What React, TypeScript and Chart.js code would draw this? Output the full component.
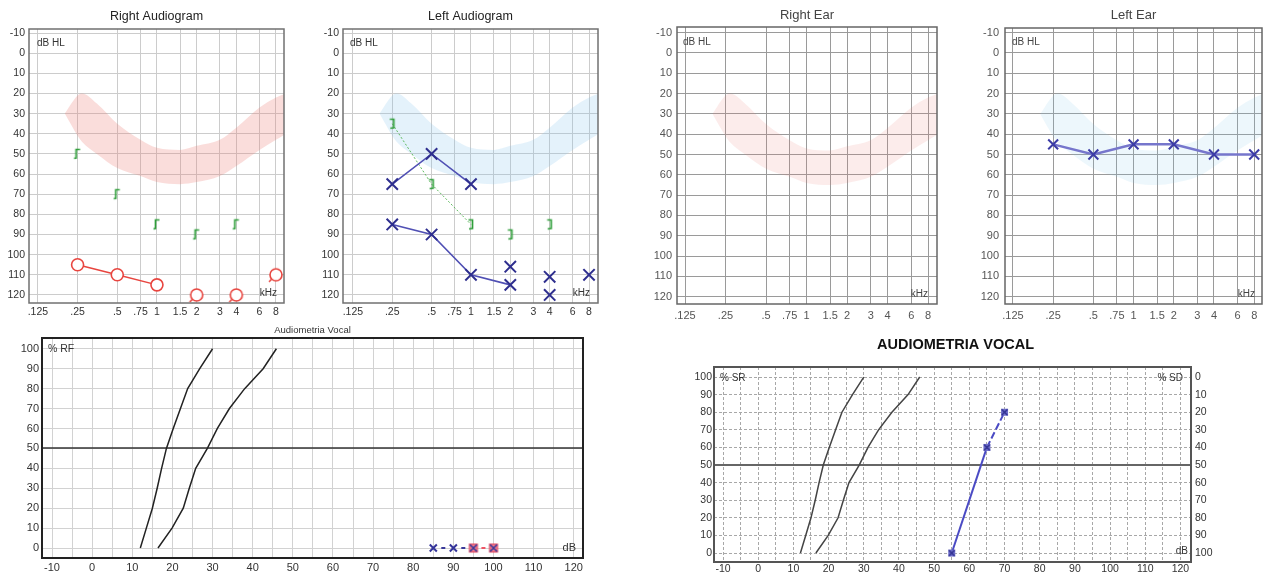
import React, { useEffect, useRef } from 'react';
import { Chart, registerables } from 'chart.js';

Chart.register(...registerables);

const FONT = "'Liberation Sans', Arial, Helvetica, sans-serif";

// ---------- tick labels ----------
const FREQ_TICKS = [0.125, 0.25, 0.5, 0.75, 1, 1.5, 2, 3, 4, 6, 8];
const FREQ_LABELS = ['.125', '.25', '.5', '.75', '1', '1.5', '2', '3', '4', '6', '8'];
const DB_HL_TICKS = [-10, 0, 10, 20, 30, 40, 50, 60, 70, 80, 90, 100, 110, 120];
const VOCAL_DB_TICKS = [-10, -5, 0, 5, 10, 15, 20, 25, 30, 35, 40, 45, 50, 55, 60, 65, 70, 75, 80, 85, 90, 95, 100, 105, 110, 115, 120];
const VOCAL_PCT_TICKS = [0, 10, 20, 30, 40, 50, 60, 70, 80, 90, 100];

// ---------- speech banana (normal-hearing speech area) ----------
const BANANA_FREQ = [0.2, 0.25, 0.27, 0.35, 0.5, 0.75, 1, 1.5, 2, 3, 4, 6, 8, 9.5];
const BANANA_UPPER_DB = [30, 21, 20, 25, 35, 43, 47, 48, 46, 43, 37, 27, 22, 20];
const BANANA_LOWER_DB = [30, 41, 44, 50, 57, 61, 64, 65, 64, 61, 56, 48, 43, 40];

// ---------- Right Audiogram ----------
const RIGHT_AIR_FREQ = [0.25, 0.5, 1];
const RIGHT_AIR_DB = [105, 110, 115];
const RIGHT_AIR_NR_FREQ = [2, 4, 8];
const RIGHT_AIR_NR_DB = [120, 120, 110];
const RIGHT_BONE_FREQ = [0.25, 0.5, 1, 2, 4];
const RIGHT_BONE_DB = [50, 70, 85, 90, 85];

// ---------- Left Audiogram ----------
const LEFT_AIR_A_FREQ = [0.25, 0.5, 1];
const LEFT_AIR_A_DB = [65, 50, 65];
const LEFT_AIR_B_FREQ = [0.25, 0.5, 1, 2];
const LEFT_AIR_B_DB = [85, 90, 110, 115];
const LEFT_AIR_SINGLE_FREQ = [2, 4, 4, 8];
const LEFT_AIR_SINGLE_DB = [106, 111, 120, 110];
const LEFT_BONE_FREQ = [0.25, 0.5, 1, 2, 4];
const LEFT_BONE_DB = [35, 65, 85, 90, 85];

// ---------- Left Ear ----------
const LEFT_EAR_FREQ = [0.25, 0.5, 1, 2, 4, 8];
const LEFT_EAR_DB = [45, 50, 45, 45, 50, 50];

// ---------- Speech audiometry ----------
const REF1_DB = [12, 13.5, 15, 16.2, 17.3, 18.5, 20.2, 22, 23.8, 26.8, 30];
const REF1_PCT = [0, 10, 20, 30, 40, 50, 60, 70, 80, 90, 100];
const REF2_DB = [16.4, 19.9, 22.7, 24.2, 25.8, 28.7, 31.2, 34.2, 38, 42.6, 45.9];
const REF2_PCT = [0, 10, 20, 30, 40, 50, 60, 70, 80, 90, 100];
const VOCAL_RF_DB = [85, 90, 95, 100];
const VOCAL_RF_PCT = [0, 0, 0, 0];
const VOCAL_SD_DB = [55, 65, 70];
const VOCAL_SD_PCT = [100, 40, 20];

// ---------- colours ----------
const RED = '#e8453f';
const GREEN = '#2f9e3a';
const NAVY = '#2e2e8e';
const BLUE_LINE = '#5050b4';

const pts = (xs: number[], ys: number[]) => xs.map((x, i) => ({ x, y: ys[i] }));

type Txt = {
  text: string;
  anchor: 'tl' | 'tr' | 'bl' | 'br' | 'tc';
  dx: number;
  dy: number;
  align: CanvasTextAlign;
  font: string;
  color: string;
};
type Deco = {
  frame?: { color: string; width: number };
  hLines?: { value: number; color: string; width: number }[];
  texts: Txt[];
};

function makeDeco(d: Deco) {
  return {
    id: 'deco',
    beforeDatasetsDraw(chart: any) {
      const { ctx, chartArea: a } = chart;
      const ys = chart.scales.y;
      (d.hLines || []).forEach((h) => {
        const y = Math.round(ys.getPixelForValue(h.value));
        ctx.save();
        ctx.strokeStyle = h.color;
        ctx.lineWidth = h.width;
        ctx.beginPath();
        ctx.moveTo(a.left, y);
        ctx.lineTo(a.right, y);
        ctx.stroke();
        ctx.restore();
      });
    },
    afterDraw(chart: any) {
      const { ctx, chartArea: a } = chart;
      ctx.save();
      if (d.frame) {
        ctx.strokeStyle = d.frame.color;
        ctx.lineWidth = d.frame.width;
        ctx.strokeRect(a.left, a.top, a.right - a.left, a.bottom - a.top);
      }
      d.texts.forEach((t) => {
        const h = t.anchor[1];
        const bx = h === 'l' ? a.left : h === 'r' ? a.right : (a.left + a.right) / 2;
        const by = t.anchor[0] === 't' ? a.top : a.bottom;
        ctx.font = t.font;
        ctx.fillStyle = t.color;
        ctx.textAlign = t.align;
        ctx.textBaseline = 'middle';
        ctx.fillText(t.text, bx + t.dx, by + t.dy);
      });
      ctx.restore();
    },
  };
}

function mkCanvas(w: number, h: number, draw: (c: CanvasRenderingContext2D) => void) {
  const cv = document.createElement('canvas');
  cv.width = w;
  cv.height = h;
  const c = cv.getContext('2d') as CanvasRenderingContext2D;
  draw(c);
  return cv;
}

function bracketMarker(color: string, openRight: boolean) {
  return mkCanvas(12, 14, (c) => {
    c.strokeStyle = color;
    c.lineWidth = 1.7;
    c.beginPath();
    if (openRight) {
      c.moveTo(8.5, 2.5);
      c.lineTo(4.5, 2.5);
      c.lineTo(4.5, 11);
      c.lineTo(2.5, 11.5);
    } else {
      c.moveTo(3.5, 2.5);
      c.lineTo(7.5, 2.5);
      c.lineTo(7.5, 11);
      c.lineTo(4, 11.5);
    }
    c.stroke();
  });
}

function circleNoResponse() {
  return mkCanvas(20, 20, (c) => {
    c.strokeStyle = RED;
    c.lineWidth = 1.6;
    c.fillStyle = '#ffffff';
    c.beginPath();
    c.arc(10, 10, 6, 0, Math.PI * 2);
    c.fill();
    c.stroke();
    c.beginPath();
    c.moveTo(5.5, 14.5);
    c.lineTo(3, 17);
    c.stroke();
  });
}

function pinkSquareX() {
  return mkCanvas(12, 12, (c) => {
    c.fillStyle = '#f27a8c';
    c.fillRect(2, 2, 8, 8);
    c.strokeStyle = '#e0405a';
    c.lineWidth = 1;
    c.strokeRect(2, 2, 8, 8);
    c.strokeStyle = '#3a3a9a';
    c.lineWidth = 1.6;
    c.beginPath();
    c.moveTo(2.5, 2.5);
    c.lineTo(9.5, 9.5);
    c.moveTo(9.5, 2.5);
    c.lineTo(2.5, 9.5);
    c.stroke();
  });
}

function blueSquareX() {
  return mkCanvas(9, 9, (c) => {
    c.fillStyle = '#7070cc';
    c.fillRect(1, 1, 7, 7);
    c.strokeStyle = '#2c2c8c';
    c.lineWidth = 1.3;
    c.beginPath();
    c.moveTo(1.5, 1.5);
    c.lineTo(7.5, 7.5);
    c.moveTo(7.5, 1.5);
    c.lineTo(1.5, 7.5);
    c.stroke();
  });
}

function baseOptions(padding: any, scales: any) {
  return {
    responsive: false,
    maintainAspectRatio: false,
    animation: false,
    devicePixelRatio: 1,
    events: [],
    layout: { padding },
    plugins: { legend: { display: false }, tooltip: { enabled: false }, title: { display: false } },
    scales,
  };
}

function freqAxis(min: number, max: number, o: any) {
  return {
    type: 'logarithmic',
    min,
    max,
    afterBuildTicks: (s: any) => {
      s.ticks = FREQ_TICKS.map((v) => ({ value: v }));
    },
    afterFit: (s: any) => {
      s.height = o.h;
    },
    ticks: {
      autoSkip: false,
      maxRotation: 0,
      minRotation: 0,
      padding: o.pad,
      color: o.color,
      font: { family: FONT, size: o.size },
      callback: (_v: any, i: number) => FREQ_LABELS[i],
    },
    grid: { color: o.grid, lineWidth: 1, drawTicks: false },
    border: { display: false },
  };
}

function dbAxis(min: number, max: number, o: any) {
  return {
    type: 'linear',
    reverse: true,
    min,
    max,
    afterBuildTicks: (s: any) => {
      s.ticks = DB_HL_TICKS.map((v) => ({ value: v }));
    },
    afterFit: (s: any) => {
      s.width = o.w;
    },
    ticks: {
      padding: o.pad,
      color: o.color,
      font: { family: FONT, size: o.size },
      callback: (v: any) => String(v),
    },
    grid: { color: o.grid, lineWidth: 1, drawTicks: false },
    border: { display: false },
  };
}

function bananaSets(fill: string) {
  return [
    {
      data: pts(BANANA_FREQ, BANANA_UPPER_DB),
      borderWidth: 0,
      borderColor: 'rgba(0,0,0,0)',
      pointRadius: 0,
      fill: false,
      cubicInterpolationMode: 'monotone',
      order: 10,
    },
    {
      data: pts(BANANA_FREQ, BANANA_LOWER_DB),
      borderWidth: 0,
      borderColor: 'rgba(0,0,0,0)',
      pointRadius: 0,
      fill: '-1',
      backgroundColor: fill,
      cubicInterpolationMode: 'monotone',
      order: 10,
    },
  ];
}

const t = (text: string, anchor: Txt['anchor'], dx: number, dy: number, align: CanvasTextAlign, font: string, color: string): Txt => ({
  text, anchor, dx, dy, align, font, color,
});

// ---------- panel builders ----------
function buildRightAudiogram() {
  const nr = circleNoResponse();
  const br = bracketMarker(GREEN, true);
  return {
    type: 'line',
    data: {
      datasets: [
        {
          data: pts(RIGHT_AIR_FREQ, RIGHT_AIR_DB),
          borderColor: RED,
          borderWidth: 1.5,
          pointStyle: 'circle',
          pointRadius: 6,
          pointBorderWidth: 1.6,
          pointBorderColor: RED,
          pointBackgroundColor: '#ffffff',
          fill: false,
        },
        { data: pts(RIGHT_AIR_NR_FREQ, RIGHT_AIR_NR_DB), showLine: false, pointStyle: nr, pointRadius: 6 },
        { data: pts(RIGHT_BONE_FREQ, RIGHT_BONE_DB), showLine: false, pointStyle: br, pointRadius: 6 },
        ...bananaSets('rgba(235,120,110,0.25)'),
      ],
    },
    options: baseOptions(
      { top: 29, right: 16, bottom: 0, left: 0 },
      {
        x: freqAxis(0.107, 9.2, { h: 17, pad: 3, color: '#333', size: 10.5, grid: '#cccccc' }),
        y: dbAxis(-12, 124, { w: 29, pad: 4, color: '#333', size: 10.5, grid: '#cccccc' }),
      }
    ),
    plugins: [
      makeDeco({
        frame: { color: '#707070', width: 1.5 },
        texts: [
          t('Right Audiogram', 'tc', 0, -12, 'center', `12.5px ${FONT}`, '#222'),
          t('dB HL', 'tl', 8, 14, 'left', `10px ${FONT}`, '#333'),
          t('kHz', 'br', -7, -10, 'right', `10px ${FONT}`, '#333'),
        ],
      }),
    ],
  };
}

function buildLeftAudiogram() {
  const bl = bracketMarker(GREEN, false);
  const xSet = (xs: number[], ys: number[], line: boolean) => ({
    data: pts(xs, ys),
    showLine: line,
    borderColor: BLUE_LINE,
    borderWidth: 1.6,
    pointStyle: 'crossRot',
    pointRadius: 8,
    pointBorderWidth: 2,
    pointBorderColor: NAVY,
    fill: false,
  });
  return {
    type: 'line',
    data: {
      datasets: [
        xSet(LEFT_AIR_A_FREQ, LEFT_AIR_A_DB, true),
        xSet(LEFT_AIR_B_FREQ, LEFT_AIR_B_DB, true),
        xSet(LEFT_AIR_SINGLE_FREQ, LEFT_AIR_SINGLE_DB, false),
        {
          data: pts(LEFT_BONE_FREQ, LEFT_BONE_DB),
          borderColor: '#5cb85c',
          borderWidth: 1,
          borderDash: [2, 2],
          segment: { borderColor: (ctx: any) => (ctx.p0DataIndex < 2 ? '#5cb85c' : 'rgba(0,0,0,0)') },
          pointStyle: bl,
          pointRadius: 6,
          fill: false,
        },
        ...bananaSets('rgba(130,195,235,0.22)'),
      ],
    },
    options: baseOptions(
      { top: 29, right: 16, bottom: 0, left: 0 },
      {
        x: freqAxis(0.105, 9.37, { h: 17, pad: 3, color: '#333', size: 10.5, grid: '#cccccc' }),
        y: dbAxis(-12, 124, { w: 29, pad: 4, color: '#333', size: 10.5, grid: '#cccccc' }),
      }
    ),
    plugins: [
      makeDeco({
        frame: { color: '#707070', width: 1.5 },
        texts: [
          t('Left Audiogram', 'tc', 0, -12, 'center', `12.5px ${FONT}`, '#222'),
          t('dB HL', 'tl', 7, 14, 'left', `10px ${FONT}`, '#333'),
          t('kHz', 'br', -8, -10, 'right', `10px ${FONT}`, '#333'),
        ],
      }),
    ],
  };
}

function buildRightEar() {
  return {
    type: 'line',
    data: { datasets: [...bananaSets('rgba(235,120,110,0.14)')] },
    options: baseOptions(
      { top: 27, right: 13, bottom: 0, left: 0 },
      {
        x: freqAxis(0.109, 9.33, { h: 16, pad: 5, color: '#555', size: 11, grid: '#9a9a9a' }),
        y: dbAxis(-12.75, 123.6, { w: 37, pad: 5, color: '#555', size: 11, grid: '#9a9a9a' }),
      }
    ),
    plugins: [
      makeDeco({
        frame: { color: '#666666', width: 1.5 },
        texts: [
          t('Right Ear', 'tc', 0, -12, 'center', `13px ${FONT}`, '#444'),
          t('dB HL', 'tl', 6, 15, 'left', `10px ${FONT}`, '#444'),
          t('kHz', 'br', -9, -10, 'right', `10px ${FONT}`, '#444'),
        ],
      }),
    ],
  };
}

function buildLeftEar() {
  return {
    type: 'line',
    data: {
      datasets: [
        {
          data: pts(LEFT_EAR_FREQ, LEFT_EAR_DB),
          borderColor: '#7676cc',
          borderWidth: 2.5,
          pointStyle: 'crossRot',
          pointRadius: 7,
          pointBorderWidth: 2,
          pointBorderColor: '#3c3ca6',
          fill: false,
        },
        ...bananaSets('rgba(130,195,235,0.14)'),
      ],
    },
    options: baseOptions(
      { top: 28, right: 6, bottom: 0, left: 0 },
      {
        x: freqAxis(0.109, 9.15, { h: 16, pad: 5, color: '#555', size: 11, grid: '#9a9a9a' }),
        y: dbAxis(-12.3, 123.6, { w: 45, pad: 6, color: '#555', size: 11, grid: '#9a9a9a' }),
      }
    ),
    plugins: [
      makeDeco({
        frame: { color: '#666666', width: 1.5 },
        texts: [
          t('Left Ear', 'tc', 0, -13, 'center', `13px ${FONT}`, '#444'),
          t('dB HL', 'tl', 7, 14, 'left', `10px ${FONT}`, '#444'),
          t('kHz', 'br', -7, -10, 'right', `10px ${FONT}`, '#444'),
        ],
      }),
    ],
  };
}

function vocalX(min: number, max: number, o: any) {
  return {
    type: 'linear',
    min,
    max,
    afterBuildTicks: (s: any) => {
      s.ticks = VOCAL_DB_TICKS.map((v) => ({ value: v }));
    },
    afterFit: (s: any) => {
      s.height = o.h;
    },
    ticks: {
      autoSkip: false,
      maxRotation: 0,
      minRotation: 0,
      padding: o.pad,
      color: '#333',
      font: { family: FONT, size: o.size },
      callback: (v: any) => (v % 10 === 0 ? String(v) : ''),
    },
    grid: { color: o.grid, lineWidth: 1, drawTicks: false },
    border: { display: false, dash: o.dash },
  };
}

function vocalY(min: number, max: number, o: any) {
  return {
    type: 'linear',
    position: o.position || 'left',
    reverse: !!o.reverse,
    min,
    max,
    afterBuildTicks: (s: any) => {
      s.ticks = VOCAL_PCT_TICKS.map((v) => ({ value: v }));
    },
    afterFit: (s: any) => {
      s.width = o.w;
    },
    ticks: { padding: o.pad, color: '#333', font: { family: FONT, size: o.size }, callback: (v: any) => String(v) },
    grid: o.grid ? { color: o.grid, lineWidth: 1, drawTicks: false } : { display: false, drawTicks: false },
    border: { display: false, dash: o.dash },
  };
}

function refCurves(color: string) {
  return [
    { data: pts(REF1_DB, REF1_PCT), borderColor: color, borderWidth: 1.5, pointRadius: 0, fill: false },
    { data: pts(REF2_DB, REF2_PCT), borderColor: color, borderWidth: 1.5, pointRadius: 0, fill: false },
  ];
}

function buildVocalLeft() {
  const sq = pinkSquareX();
  return {
    type: 'line',
    data: {
      datasets: [
        {
          data: pts(VOCAL_RF_DB, VOCAL_RF_PCT),
          borderColor: '#3a3a9a',
          borderWidth: 2,
          borderDash: [0, 8, 4, 8],
          segment: { borderColor: (ctx: any) => (ctx.p0DataIndex >= 2 ? '#ee5566' : '#3a3a9a') },
          pointStyle: ['crossRot', 'crossRot', sq, sq],
          pointRadius: 5,
          pointBorderWidth: 2,
          pointBorderColor: '#34349a',
          fill: false,
        },
        ...refCurves('#222222'),
      ],
    },
    options: baseOptions(
      { top: 18, right: 17, bottom: 0, left: 0 },
      {
        x: vocalX(-12.5, 122.3, { h: 17, pad: 3, size: 11, grid: '#d2d2d2' }),
        y: vocalY(-5, 105.4, { w: 42, pad: 3, size: 11, grid: '#d2d2d2' }),
      }
    ),
    plugins: [
      makeDeco({
        frame: { color: '#222222', width: 2 },
        hLines: [{ value: 50, color: '#333333', width: 1.5 }],
        texts: [
          t('Audiometria Vocal', 'tc', 0, -8, 'center', `9.5px ${FONT}`, '#333'),
          t('% RF', 'tl', 6, 11, 'left', `10.5px ${FONT}`, '#333'),
          t('dB', 'br', -7, -10, 'right', `11px ${FONT}`, '#333'),
        ],
      }),
    ],
  };
}

function buildVocalRight() {
  const sq = blueSquareX();
  return {
    type: 'line',
    data: {
      datasets: [
        {
          data: pts(VOCAL_SD_DB, VOCAL_SD_PCT),
          yAxisID: 'y2',
          borderColor: '#4a4ac4',
          borderWidth: 2,
          segment: { borderDash: (ctx: any) => (ctx.p0DataIndex === 1 ? [7, 3] : undefined) },
          pointStyle: sq,
          pointRadius: 4,
          fill: false,
        },
        ...refCurves('#444444'),
      ],
    },
    options: baseOptions(
      { top: 47, right: 50, bottom: 0, left: 0 },
      {
        x: vocalX(-12.56, 123, { h: 13, pad: 1, size: 10.5, grid: '#a8a8a8', dash: [3, 2] }),
        y: vocalY(-5.1, 105.7, { w: 54, pad: 2, size: 10.5, grid: '#a8a8a8', dash: [3, 2] }),
        y2: vocalY(-5.7, 105.1, { w: 30, pad: 4, size: 10.5, position: 'right', reverse: true }),
      }
    ),
    plugins: [
      makeDeco({
        frame: { color: '#555555', width: 2 },
        hLines: [{ value: 50, color: '#666666', width: 2 }],
        texts: [
          t('AUDIOMETRIA VOCAL', 'tc', 3, -22, 'center', `bold 14.5px ${FONT}`, '#111'),
          t('% SR', 'tl', 6, 11, 'left', `10px ${FONT}`, '#333'),
          t('% SD', 'tr', -8, 11, 'right', `10px ${FONT}`, '#333'),
          t('dB', 'br', -3, -11, 'right', `10px ${FONT}`, '#333'),
        ],
      }),
    ],
  };
}

function ChartBox(props: { left: number; top: number; width: number; height: number; build: () => any }) {
  const { left, top, width, height, build } = props;
  const ref = useRef<HTMLCanvasElement | null>(null);
  useEffect(() => {
    const chart = new Chart(ref.current as HTMLCanvasElement, build());
    return () => chart.destroy();
  }, [build]);
  return (
    <canvas
      ref={ref}
      width={width}
      height={height}
      style={{ position: 'absolute', left, top, width, height }}
    />
  );
}

export default function App() {
  return (
    <div
      style={{
        position: 'fixed',
        left: 0,
        top: 0,
        width: 1271,
        height: 575,
        background: '#ffffff',
        overflow: 'hidden',
      }}
    >
      <ChartBox left={0} top={0} width={300} height={320} build={buildRightAudiogram} />
      <ChartBox left={314} top={0} width={300} height={320} build={buildLeftAudiogram} />
      <ChartBox left={640} top={0} width={310} height={320} build={buildRightEar} />
      <ChartBox left={960} top={0} width={311} height={320} build={buildLeftEar} />
      <ChartBox left={0} top={320} width={600} height={255} build={buildVocalLeft} />
      <ChartBox left={660} top={320} width={611} height={255} build={buildVocalRight} />
    </div>
  );
}
